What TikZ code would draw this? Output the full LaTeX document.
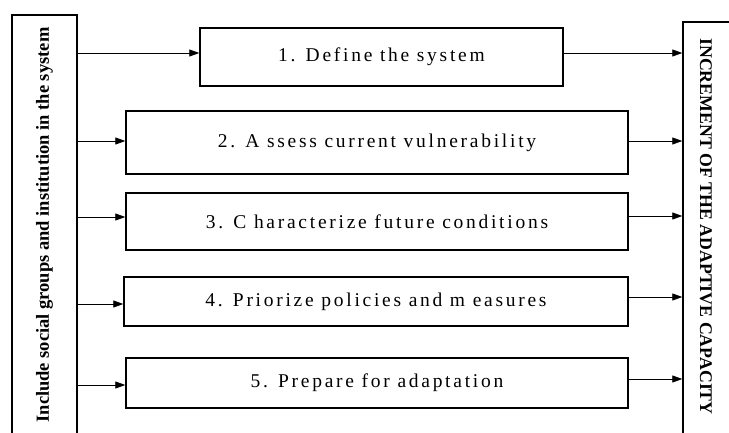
\documentclass[tikz,border=0pt]{standalone}
\usepackage{fontspec}
\setmainfont{Liberation Serif}
\newfontfamily\spacedfont[LetterSpace=14]{Liberation Serif}
\usetikzlibrary{arrows.meta}

\tikzset{
  stepbox/.style={draw, line width=1.4pt, inner sep=0pt,
    font=\spacedfont\fontsize{19.5}{22}\selectfont},
  sidebox/.style={draw, line width=1.4pt, inner sep=0pt},
  sidetext/.style={font=\bfseries\fontsize{18.5}{20}\selectfont},
  feed/.style={draw, line width=0.8pt, -{Triangle[length=10pt,width=7pt]}},
}

\begin{document}
\begin{tikzpicture}[x=1pt,y=1pt]
    \useasboundingbox (0,0) rectangle (729,432);

    % the two side bars
    \node[sidebox, minimum width=65pt, minimum height=427pt] (include) at (44.5,203.5) {};
    \node[sidetext, rotate=90] (includetext) at (44.5,207)
      {Include social groups and institution in the system};
    \node[sidebox, minimum width=54pt, minimum height=418pt] (goal) at (710,201) {};
    \node[sidetext, rotate=-90, font=\bfseries\fontsize{17.8}{20}\selectfont] (goaltext) at (706,205.5)
      {INCREMENT OF THE ADAPTIVE CAPACITY};

    % the five steps
    \node[stepbox, minimum width=363pt, minimum height=58pt] (s1) at (381.5,375) {1. Define the system};
    \node[stepbox, minimum width=502pt, minimum height=63pt] (s2) at (377,289.5) {2. A ssess current vulnerability};
    \node[stepbox, minimum width=502pt, minimum height=57pt] (s3) at (377,210.5) {3. C haracterize future conditions};
    \node[stepbox, minimum width=504pt, minimum height=49pt] (s4) at (376,130.5) {4. Priorize policies and m easures};
    \node[stepbox, minimum width=502pt, minimum height=50pt] (s5) at (377,49) {5. Prepare for adaptation};

    % where the arrows meet the steps
    \coordinate (in1) at ([yshift=4pt]s1.west);
    \coordinate (in2) at ([yshift=1.5pt]s2.west);
    \coordinate (in3) at ([yshift=4.5pt]s3.west);
    \coordinate (in4) at ([yshift=-2.5pt]s4.west);
    \coordinate (in5) at ([yshift=-2pt]s5.west);
    \coordinate (out1) at ([yshift=4pt]s1.east);
    \coordinate (out2) at ([yshift=1.5pt]s2.east);
    \coordinate (out3) at ([yshift=5.5pt]s3.east);
    \coordinate (out4) at ([yshift=4.5pt]s4.east);
    \coordinate (out5) at ([yshift=4pt]s5.east);

    % arrows in
    \draw[feed] (include.east |- in1) -- (in1);
    \draw[feed] (include.east |- in2) -- (in2);
    \draw[feed] (include.east |- in3) -- (in3);
    \draw[feed] (include.east |- in4) -- (in4);
    \draw[feed] (include.east |- in5) -- (in5);

    % arrows out
    \draw[feed] (out1) -- (out1 -| goal.west);
    \draw[feed] (out2) -- (out2 -| goal.west);
    \draw[feed] (out3) -- (out3 -| goal.west);
    \draw[feed] (out4) -- (out4 -| goal.west);
    \draw[feed] (out5) -- (out5 -| goal.west);
\end{tikzpicture}
\end{document}
